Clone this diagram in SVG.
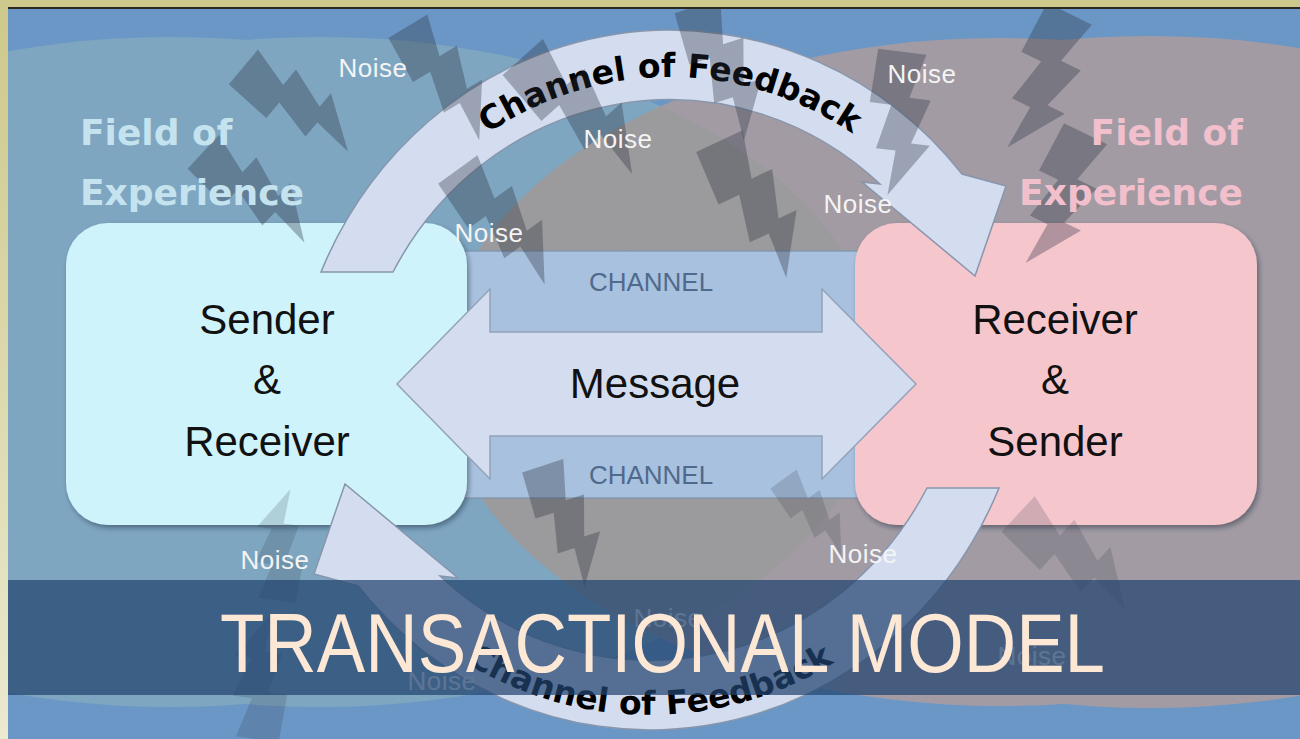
<svg xmlns="http://www.w3.org/2000/svg" width="1300" height="739" viewBox="0 0 1300 739">
<defs>
  <style>
    .lbl { font-family: "Liberation Sans", Arial, sans-serif; fill: #111; text-anchor: middle; }
    .noise { font-family: "Liberation Sans", Arial, sans-serif; font-size: 26px; fill: #f4f4f4; text-anchor: middle; letter-spacing: 0.5px; }
    .chan { font-family: "Liberation Sans", Arial, sans-serif; font-size: 26px; fill: #4f6a8c; text-anchor: middle; }
    .field { font-family: "DejaVu Sans", sans-serif; font-weight: bold; font-size: 36px; }
    .fb { font-family: "DejaVu Sans", sans-serif; font-weight: bold; font-size: 33px; fill: #000; }
    .bolt { fill: #2b3340; opacity: 0.34; }
    .bolt-faint { fill: #2b3340; opacity: 0.18; }
    .arc { fill: #d3ddef; stroke: #8796ad; stroke-width: 1.5; }
  </style>
  <linearGradient id="frameGrad" x1="0" y1="0" x2="0" y2="1">
    <stop offset="0" stop-color="#cdc88b"/>
    <stop offset="1" stop-color="#ebe9cf"/>
  </linearGradient>
  <clipPath id="leftField">
    <ellipse cx="320" cy="372" rx="560" ry="335"/>
    <ellipse cx="170" cy="372" rx="560" ry="335"/>
  </clipPath>
  <clipPath id="canvas">
    <rect x="8" y="9" width="1292" height="730"/>
  </clipPath>
  <filter id="shadow" x="-10%" y="-10%" width="125%" height="130%">
    <feDropShadow dx="2" dy="3" stdDeviation="2.5" flood-color="#1c2430" flood-opacity="0.45"/>
  </filter>
  <path id="bolt" d="M -30 0 L 24 0 L 11 50 L 35 50 L 19 100 L 40 100 L 0 160 L 3 110 L -19 110 L -8 60 L -32 60 Z"/>
  <path id="feedbackArc" d="M 321 272 A 380 400 0 0 1 962 174 L 1006 186 L 975 276 L 862 182 L 880 184 A 315 330 0 0 0 393 272 Z"/>
  <path id="topTextPath" d="M 334 430 A 336 353 0 0 1 1006 430"/>
  <path id="botTextPath" d="M 284 330 A 366 385 0 0 0 1016 330"/>
</defs>

<!-- frame and background -->
<rect x="0" y="0" width="1300" height="739" fill="url(#frameGrad)"/>
<rect x="8" y="9" width="1292" height="730" fill="#6a97c6"/>
<rect x="8" y="7" width="1292" height="2" fill="#2a2a22"/>

<g clip-path="url(#canvas)">
  <!-- fields of experience -->
  <g id="field-left">
    <ellipse cx="320" cy="372" rx="560" ry="335" fill="#7ea6c1"/>
    <ellipse cx="170" cy="372" rx="560" ry="335" fill="#7ea6c1"/>
  </g>
  <g id="field-right">
    <ellipse cx="1000" cy="372" rx="560" ry="334" fill="#a29ba4"/>
    <ellipse cx="1150" cy="372" rx="560" ry="336" fill="#a29ba4"/>
  </g>
  <g id="field-overlap" clip-path="url(#leftField)">
    <ellipse cx="1000" cy="372" rx="560" ry="334" fill="#9b9a9c"/>
    <ellipse cx="1150" cy="372" rx="560" ry="336" fill="#9b9a9c"/>
  </g>

  <!-- channel band -->
  <g id="channel">
    <rect x="455" y="251" width="410" height="247" fill="#a8c1de" stroke="#7f93ab" stroke-width="1.2"/>
    <text class="chan" x="651" y="291">CHANNEL</text>
    <text class="chan" x="651" y="484">CHANNEL</text>
  </g>

  <!-- nodes -->
  <g id="sender">
    <rect x="66" y="223" width="401" height="302" rx="42" fill="#cef3fb" filter="url(#shadow)"/>
  </g>
  <g id="receiver">
    <rect x="855" y="223" width="402" height="302" rx="42" fill="#f6c6cd" filter="url(#shadow)"/>
  </g>

  <!-- connectors -->
  <g id="connectors">
    <g id="feedback-top">
      <use href="#feedbackArc" class="arc"/>
      <text class="fb" text-anchor="middle"><textPath href="#topTextPath" startOffset="50%">Channel of Feedback</textPath></text>
    </g>
    <g id="feedback-bottom">
      <use href="#feedbackArc" class="arc" transform="rotate(180 660 380)"/>
      <text class="fb" text-anchor="middle"><textPath href="#botTextPath" startOffset="50%">Channel of Feedback</textPath></text>
    </g>
    <g id="message">
      <path d="M 397 384 L 490 289 L 490 332 L 822 332 L 822 289 L 916 384 L 822 479 L 822 436 L 490 436 L 490 479 Z" fill="#d3ddef" stroke="#93a2b8" stroke-width="1.5"/>
      <text class="lbl" x="655" y="398" font-size="42">Message</text>
    </g>
  </g>

  <!-- node labels -->
  <g id="sender-label">
    <text class="lbl" x="267" y="334" font-size="42">Sender</text>
    <text class="lbl" x="267" y="394" font-size="42">&amp;</text>
    <text class="lbl" x="267" y="456" font-size="42">Receiver</text>
  </g>
  <g id="receiver-label">
    <text class="lbl" x="1055" y="334" font-size="42">Receiver</text>
    <text class="lbl" x="1055" y="394" font-size="42">&amp;</text>
    <text class="lbl" x="1055" y="456" font-size="42">Sender</text>
  </g>

  <!-- noise bolts -->
  <g id="bolts">
    <use href="#bolt" class="bolt" transform="translate(245 65) rotate(-50) scale(0.84)"/>
    <use href="#bolt" class="bolt" transform="translate(205 150) rotate(-47) scale(0.85)"/>
    <use href="#bolt" class="bolt" transform="translate(410 25) rotate(-31) scale(0.84)"/>
    <use href="#bolt" class="bolt" transform="translate(460 168) rotate(-36) scale(0.9)"/>
    <use href="#bolt" class="bolt" transform="translate(525 55) rotate(-42) scale(1.0)"/>
    <use href="#bolt" class="bolt" transform="translate(700 5) rotate(-18) scale(0.89)"/>
    <use href="#bolt" class="bolt" transform="translate(722 140) rotate(-25) scale(0.95)"/>
    <use href="#bolt" class="bolt" transform="translate(905 52) rotate(7) scale(0.9)"/>
    <use href="#bolt" class="bolt" transform="translate(1072 15) rotate(26) scale(0.92)"/>
    <use href="#bolt" class="bolt" transform="translate(1088 135) rotate(26) scale(0.89)"/>
    <use href="#bolt" class="bolt" transform="translate(545 465) rotate(-18) scale(0.8)"/>
    <use href="#bolt" class="bolt-faint" transform="translate(785 478) rotate(-36) scale(0.6)"/>
    <use href="#bolt" class="bolt-faint" transform="translate(1020 512) rotate(-47) scale(0.9)"/>
    <use href="#bolt" class="bolt-faint" transform="translate(275 600) rotate(-172) scale(0.7)"/>
    <use href="#bolt" class="bolt-faint" transform="translate(255 739) rotate(-172) scale(0.8)"/>
  </g>

  <!-- field labels -->
  <g id="field-left-label" class="field" fill="#c5e3ef">
    <text x="80" y="145">Field of</text>
    <text x="80" y="205">Experience</text>
  </g>
  <g id="field-right-label" class="field" fill="#f2bfcc" text-anchor="end">
    <text x="1243" y="145">Field of</text>
    <text x="1243" y="205">Experience</text>
  </g>

  <!-- noise labels -->
  <g id="noise-labels">
    <text class="noise" x="373" y="77">Noise</text>
    <text class="noise" x="922" y="83">Noise</text>
    <text class="noise" x="618" y="148">Noise</text>
    <text class="noise" x="858" y="213">Noise</text>
    <text class="noise" x="489" y="242">Noise</text>
    <text class="noise" x="275" y="569">Noise</text>
    <text class="noise" x="863" y="563">Noise</text>
    <text class="noise" x="668" y="627">Noise</text>
    <text class="noise" x="1032" y="665">Noise</text>
    <text class="noise" x="442" y="690">Noise</text>
  </g>

  <!-- title banner -->
  <g id="title">
    <rect x="8" y="580" width="1292" height="115" fill="#23446f" opacity="0.72"/>
    <text x="220" y="672" font-family="Liberation Sans, Arial, sans-serif" font-size="84" fill="#fde8d5" textLength="885" lengthAdjust="spacingAndGlyphs">TRANSACTIONAL MODEL</text>
  </g>
</g>
</svg>
